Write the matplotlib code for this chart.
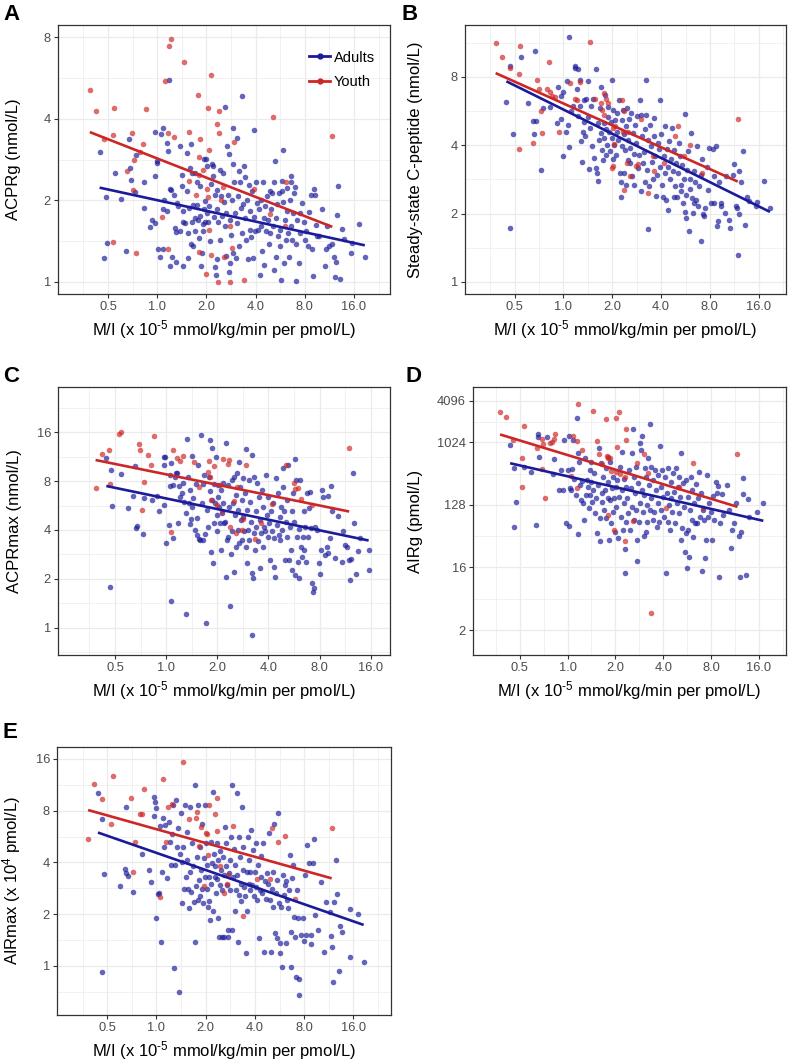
import numpy as np
import matplotlib
matplotlib.use('Agg')
import matplotlib.pyplot as plt
from matplotlib.lines import Line2D
from matplotlib.ticker import NullFormatter

plt.rcParams['font.family'] = ['Liberation Sans', 'DejaVu Sans']
plt.rcParams['mathtext.fontset'] = 'custom'
plt.rcParams['mathtext.rm'] = 'Liberation Sans'
plt.rcParams['mathtext.it'] = 'Liberation Sans:italic'
plt.rcParams['mathtext.bf'] = 'Liberation Sans:bold'

ADULT = '#1b1b9a'
YOUTH = '#cd2626'

x_ticks = [0.5, 1, 2, 4, 8, 16]
x_tick_labels = ['0.5', '1.0', '2.0', '4.0', '8.0', '16.0']
x_label = r'M/I (x 10$^{\text{-5}}$ mmol/kg/min per pmol/L)'

# all points are (log2 M/I, log2 y)

# --- A: ACPRg ---
A_adult = [(-1.17,1.59),(-1.05,1.04),(-1.03,0.48),(-1.08,0.29),(-0.86,1.33),(-0.73,1.02),(-0.63,0.38),(-0.58,1.75),(-0.56,1.40),(-0.54,1.25),(-0.44,1.55),(-0.45,1.10),(-0.27,1.22),(-0.27,0.91),(-0.14,0.67),(-0.10,0.76),(-0.05,0.72),(-0.05,1.84),(-0.04,1.30),(-0.01,1.48),(0.00,1.46),(0.01,0.40),(0.05,0.31),(0.11,0.41),(0.07,1.81),(0.12,1.89),(0.14,1.01),(0.12,0.89),(0.19,1.70),(0.21,1.60),(0.19,0.87),(0.24,2.47),(0.26,0.20),(0.27,1.14),(0.29,1.13),(0.31,0.30),(0.34,1.07),(0.37,0.66),(0.38,0.61),(0.39,0.25),(0.41,0.97),(0.43,0.93),(0.46,0.62),(0.50,1.31),(0.51,1.17),(0.52,0.87),(0.52,0.74),(0.53,0.20),(0.57,0.72),(0.60,1.12),(0.62,0.60),(0.63,0.29),(0.65,0.91),(0.67,1.40),(0.69,1.69),(0.69,0.46),(0.70,1.33),(0.71,0.73),(0.72,0.94),(0.73,0.44),(0.77,0.63),(0.77,0.78),(0.80,0.94),(0.80,1.23),(0.82,0.76),(0.86,0.54),(0.87,0.81),(0.88,1.17),(0.90,0.19),(0.91,0.36),(0.93,0.62),(0.94,0.71),(0.95,0.89),(0.97,0.74),(0.98,0.99),(0.99,1.51),(1.01,1.42),(1.02,0.84),(1.04,0.74),(1.06,0.93),(1.07,0.50),(1.09,1.20),(1.12,1.44),(1.13,1.30),(1.14,1.42),(1.16,0.80),(1.17,1.07),(1.18,0.18),(1.20,0.09),(1.21,0.28),(1.21,0.89),(1.22,1.13),(1.24,0.74),(1.27,1.37),(1.28,0.52),(1.30,1.05),(1.31,0.81),(1.33,1.33),(1.35,0.98),(1.37,0.69),(1.38,2.14),(1.39,0.32),(1.40,0.85),(1.41,1.66),(1.44,1.07),(1.46,1.57),(1.46,0.12),(1.47,0.23),(1.48,0.76),(1.50,0.58),(1.52,1.01),(1.54,1.44),(1.55,1.89),(1.55,0.36),(1.57,1.22),(1.59,0.84),(1.60,0.29),(1.62,0.72),(1.63,1.76),(1.65,1.05),(1.66,1.36),(1.67,0.44),(1.69,1.22),(1.70,0.91),(1.72,0.60),(1.73,2.28),(1.74,0.96),(1.76,1.42),(1.78,0.78),(1.79,1.29),(1.80,0.52),(1.82,1.01),(1.84,0.28),(1.86,1.19),(1.88,0.64),(1.89,0.87),(1.90,0.55),(1.93,1.11),(1.95,0.29),(1.96,1.86),(1.97,0.80),(1.99,0.62),(2.01,1.22),(2.03,0.97),(2.04,0.64),(2.06,0.89),(2.08,0.08),(2.10,0.68),(2.11,1.01),(2.13,0.38),(2.15,1.23),(2.17,0.78),(2.18,0.21),(2.20,0.93),(2.22,0.62),(2.23,1.05),(2.25,0.76),(2.27,0.47),(2.29,1.12),(2.30,0.60),(2.31,0.89),(2.33,1.09),(2.35,0.68),(2.37,1.22),(2.38,0.15),(2.40,1.48),(2.41,0.78),(2.42,0.31),(2.44,0.95),(2.45,0.56),(2.47,1.09),(2.49,0.44),(2.50,0.64),(2.52,0.03),(2.53,1.11),(2.55,1.62),(2.56,0.98),(2.57,0.23),(2.59,0.76),(2.61,0.52),(2.63,1.15),(2.64,0.87),(2.65,0.60),(2.67,0.31),(2.69,1.01),(2.71,1.23),(2.72,0.68),(2.74,0.52),(2.76,0.84),(2.78,1.09),(2.80,1.16),(2.82,0.01),(2.83,0.46),(2.84,0.76),(2.88,0.23),(2.90,0.60),(2.91,0.84),(2.95,0.97),(2.98,0.74),(3.01,0.52),(3.03,0.62),(3.06,0.44),(3.08,0.86),(3.12,1.07),(3.15,0.40),(3.16,0.07),(3.18,1.14),(3.20,1.07),(3.22,0.70),(3.24,0.56),(3.29,0.56),(3.35,0.89),(3.42,0.20),(3.44,0.40),(3.49,0.44),(3.56,0.47),(3.59,0.31),(3.61,0.06),(3.63,0.25),(3.65,0.82),(3.67,1.18),(3.71,0.04),(3.75,0.65),(3.80,0.53),(3.93,0.36),(3.95,0.48),(4.10,0.71),(4.22,0.31),(3.46,0.68),(0.46,1.66),(0.60,1.58),(0.77,1.33),(0.95,1.51),(2.54,1.24),(2.71,1.30)]
A_youth = [(-1.37,2.35),(-1.24,2.10),(-1.09,1.75),(-0.88,2.13),(-0.90,1.80),(-0.90,0.49),(-0.52,1.82),(-0.47,1.49),(-0.28,1.69),(-0.23,2.12),(-0.35,1.59),(-0.61,1.36),(-0.49,1.13),(-0.43,0.36),(0.10,0.80),(0.15,2.46),(0.24,2.89),(0.29,2.98),(0.22,1.82),(0.34,1.78),(0.22,0.40),(0.54,2.69),(0.64,1.84),(0.65,1.24),(0.82,2.29),(0.87,1.75),(0.84,1.53),(0.86,1.31),(0.78,1.06),(0.86,0.37),(0.94,1.37),(1.09,2.54),(1.03,2.13),(1.05,1.62),(1.01,1.14),(1.03,1.04),(1.06,0.64),(0.99,0.10),(1.09,0.33),(1.22,1.94),(1.25,2.10),(1.25,1.82),(1.29,1.00),(1.23,0.00),(1.33,1.16),(1.47,0.68),(1.52,0.42),(1.47,0.00),(1.57,1.72),(1.76,0.03),(1.97,1.14),(2.35,2.02),(2.30,0.83),(2.62,1.23),(2.60,0.68),(1.35,0.31),(3.56,1.79)]
A_fit = [(1.002, -0.131), (1.513, -0.2355)]  # adults, youth: log2 y = a + b log2 x

# --- B: steady-state C-peptide ---
B_adult = [(-1.09,3.16),(-1.17,2.64),(-1.09,0.79),(-1.04,2.16),(-0.88,3.29),(-0.73,2.62),(-0.63,2.36),(-0.57,2.36),(-0.59,3.38),(-0.61,2.16),(-0.46,1.64),(-0.43,2.55),(-0.27,2.56),(-0.14,2.32),(-0.12,2.85),(-0.06,2.38),(-0.05,2.72),(-0.01,1.84),(0.00,2.78),(0.05,2.20),(0.07,2.94),(0.10,2.30),(0.12,3.59),(0.11,1.98),(0.16,2.50),(0.19,2.58),(0.23,3.16),(0.24,3.13),(0.27,2.82),(0.29,3.11),(0.29,2.43),(0.33,2.96),(0.34,2.57),(0.36,2.06),(0.38,1.76),(0.40,2.20),(0.42,2.67),(0.43,2.34),(0.45,2.13),(0.47,2.68),(0.50,2.94),(0.51,2.42),(0.52,1.65),(0.55,2.25),(0.57,2.57),(0.59,1.99),(0.61,2.68),(0.63,1.81),(0.66,1.67),(0.67,3.12),(0.68,1.60),(0.70,1.48),(0.70,2.32),(0.72,2.08),(0.74,2.54),(0.76,2.86),(0.76,2.18),(0.78,1.93),(0.81,1.79),(0.83,2.32),(0.84,2.11),(0.85,2.74),(0.87,2.24),(0.88,1.86),(0.89,2.01),(0.91,2.41),(0.92,2.56),(0.94,2.19),(0.96,1.91),(0.98,2.34),(0.99,2.95),(1.00,2.11),(1.01,2.52),(1.02,1.80),(1.04,2.01),(1.06,2.37),(1.08,1.86),(1.09,2.20),(1.10,2.48),(1.11,2.08),(1.13,2.67),(1.15,1.60),(1.17,1.25),(1.18,1.47),(1.19,2.37),(1.20,1.99),(1.22,2.52),(1.23,2.16),(1.25,1.60),(1.26,1.93),(1.28,2.29),(1.29,1.42),(1.30,2.55),(1.32,1.79),(1.33,2.08),(1.35,2.38),(1.37,1.96),(1.37,1.74),(1.39,2.47),(1.41,1.55),(1.42,2.18),(1.44,1.88),(1.45,1.42),(1.47,2.30),(1.49,2.03),(1.51,2.43),(1.52,1.67),(1.54,1.86),(1.56,2.67),(1.58,1.33),(1.59,2.45),(1.60,2.13),(1.62,1.74),(1.65,1.90),(1.66,2.24),(1.67,1.47),(1.69,2.95),(1.70,2.45),(1.71,1.64),(1.73,0.77),(1.74,2.08),(1.76,1.40),(1.77,2.30),(1.80,1.99),(1.81,1.75),(1.83,1.50),(1.85,2.13),(1.86,2.40),(1.88,1.84),(1.90,1.26),(1.92,1.57),(1.93,2.04),(1.95,1.95),(1.97,2.67),(1.98,1.69),(2.00,2.16),(2.01,1.42),(2.03,1.25),(2.05,1.84),(2.07,1.60),(2.08,2.28),(2.10,1.20),(2.12,1.95),(2.14,1.69),(2.15,1.06),(2.17,2.06),(2.19,1.50),(2.20,1.80),(2.23,2.26),(2.24,1.63),(2.26,1.25),(2.27,1.93),(2.29,1.40),(2.31,1.74),(2.33,1.25),(2.34,1.60),(2.36,2.03),(2.38,1.85),(2.40,1.42),(2.41,1.33),(2.42,1.71),(2.44,1.16),(2.46,1.50),(2.48,2.46),(2.49,1.03),(2.51,0.94),(2.52,1.28),(2.53,1.64),(2.55,1.91),(2.57,0.74),(2.59,1.36),(2.60,1.50),(2.61,2.18),(2.63,1.23),(2.65,1.01),(2.67,1.16),(2.68,1.63),(2.70,1.47),(2.72,1.20),(2.74,1.99),(2.75,1.11),(2.78,1.40),(2.81,1.56),(2.82,0.60),(2.83,1.80),(2.85,0.99),(2.87,0.96),(2.90,1.08),(2.94,1.69),(2.97,1.35),(2.99,1.96),(3.02,1.16),(3.06,1.94),(3.08,1.55),(3.09,1.16),(3.13,1.99),(3.15,0.82),(3.17,0.89),(3.19,1.46),(3.22,1.15),(3.23,1.11),(3.30,1.01),(3.33,1.55),(3.40,0.91),(3.42,0.79),(3.47,1.57),(3.49,1.73),(3.54,1.11),(3.55,1.08),(3.57,0.40),(3.59,1.00),(3.60,1.62),(3.64,1.47),(3.67,1.91),(3.71,0.84),(3.75,1.25),(3.81,1.18),(3.95,1.11),(3.97,1.17),(4.10,1.48),(4.23,1.08)]
B_youth = [(-1.39,3.50),(-1.26,3.29),(-1.10,3.13),(-0.91,3.04),(-0.89,3.45),(-0.91,1.95),(-0.63,2.03),(-0.44,2.18),(-0.47,2.50),(-0.54,2.95),(-0.51,2.82),(-0.34,2.82),(-0.29,3.22),(-0.27,2.78),(-0.24,2.72),(-0.18,2.71),(-0.10,2.19),(0.14,2.91),(0.23,2.68),(0.27,2.67),(0.33,2.93),(0.54,3.51),(0.65,2.68),(0.77,2.62),(0.84,2.77),(0.87,2.68),(0.78,2.52),(0.84,2.45),(0.91,2.62),(1.01,2.26),(1.06,2.29),(1.04,2.02),(1.00,1.67),(1.01,1.70),(1.19,2.67),(1.25,2.50),(1.22,2.20),(1.30,1.74),(1.32,2.20),(1.24,1.34),(1.37,1.55),(1.49,1.70),(1.52,1.72),(1.58,2.39),(1.74,1.30),(1.83,1.85),(1.86,1.63),(2.05,1.74),(2.29,2.13),(2.35,2.29),(2.46,1.85),(2.60,2.00),(2.83,1.60),(3.57,2.39)]
B_fit = [(2.523, -0.354), (2.612, -0.320)]

# --- C: ACPRmax ---
C_adult = [(-1.17,3.47),(-1.09,0.84),(-1.08,3.22),(-1.05,2.49),(-0.89,3.14),(-0.75,2.44),(-0.64,2.70),(-0.61,3.30),(-0.59,2.05),(-0.57,2.08),(-0.46,1.92),(-0.43,2.65),(-0.28,2.61),(-0.18,2.70),(-0.13,2.39),(-0.05,2.51),(-0.05,3.33),(-0.04,3.50),(-0.02,3.49),(0.00,1.73),(0.05,2.10),(0.07,2.91),(0.08,3.13),(0.10,3.38),(0.10,0.55),(0.13,1.83),(0.14,2.92),(0.18,3.09),(0.19,3.17),(0.21,3.16),(0.24,2.15),(0.26,2.90),(0.27,2.68),(0.31,2.75),(0.33,2.96),(0.35,2.58),(0.38,0.28),(0.38,2.35),(0.40,3.86),(0.42,3.09),(0.44,2.55),(0.46,2.82),(0.47,2.12),(0.48,2.22),(0.50,3.52),(0.51,2.48),(0.53,2.65),(0.56,2.00),(0.59,2.94),(0.60,1.90),(0.61,2.24),(0.63,3.33),(0.64,1.81),(0.66,1.80),(0.68,3.95),(0.70,2.55),(0.72,1.80),(0.73,2.94),(0.74,3.13),(0.76,1.92),(0.78,0.09),(0.80,2.41),(0.81,2.07),(0.83,3.09),(0.85,3.84),(0.86,2.79),(0.88,1.54),(0.89,3.67),(0.90,2.61),(0.91,1.33),(0.93,2.14),(0.94,2.94),(0.96,2.55),(0.98,3.50),(0.99,2.31),(1.00,1.97),(1.02,2.92),(1.02,2.67),(1.04,2.48),(1.06,2.15),(1.07,1.59),(1.08,2.82),(1.10,2.35),(1.11,2.96),(1.12,2.55),(1.13,2.14),(1.15,2.17),(1.17,3.79),(1.18,1.03),(1.19,1.80),(1.20,1.86),(1.21,2.92),(1.23,2.48),(1.25,0.44),(1.26,1.51),(1.28,1.97),(1.28,3.02),(1.30,2.55),(1.32,1.15),(1.33,3.09),(1.34,2.31),(1.36,2.72),(1.37,1.65),(1.38,3.17),(1.40,2.00),(1.41,2.41),(1.42,3.40),(1.43,1.74),(1.45,2.89),(1.46,2.20),(1.48,2.61),(1.49,1.80),(1.50,3.06),(1.51,2.27),(1.53,1.97),(1.54,2.75),(1.56,3.65),(1.56,1.65),(1.58,2.41),(1.59,1.32),(1.60,2.00),(1.62,3.02),(1.63,1.80),(1.64,2.58),(1.66,2.17),(1.67,3.54),(1.68,1.11),(1.68,-0.15),(1.69,1.01),(1.71,1.93),(1.72,3.09),(1.73,1.59),(1.75,2.38),(1.76,2.07),(1.77,2.96),(1.79,1.78),(1.81,2.68),(1.83,1.22),(1.84,2.20),(1.85,1.93),(1.87,2.82),(1.89,1.66),(1.90,2.48),(1.92,2.07),(1.94,1.97),(1.96,3.13),(1.97,2.31),(1.99,1.86),(2.00,2.68),(2.02,2.14),(2.03,1.39),(2.05,2.38),(2.07,1.97),(2.09,2.55),(2.10,1.83),(2.11,1.25),(2.13,1.04),(2.14,3.06),(2.16,2.10),(2.18,2.75),(2.20,1.90),(2.22,2.27),(2.23,1.80),(2.25,2.48),(2.26,2.00),(2.28,3.26),(2.29,2.89),(2.31,2.38),(2.33,1.39),(2.35,2.17),(2.36,1.86),(2.37,2.61),(2.39,3.33),(2.41,1.39),(2.43,2.07),(2.44,1.59),(2.46,2.38),(2.47,1.18),(2.49,2.75),(2.50,2.17),(2.52,3.45),(2.52,1.08),(2.54,3.02),(2.56,1.86),(2.57,1.35),(2.59,1.01),(2.60,2.02),(2.62,3.02),(2.64,1.66),(2.65,1.45),(2.67,1.86),(2.69,2.38),(2.70,1.59),(2.72,2.07),(2.74,1.35),(2.75,2.75),(2.77,1.86),(2.79,2.46),(2.82,2.78),(2.83,2.05),(2.85,0.92),(2.88,0.74),(2.89,0.81),(2.91,2.07),(2.95,2.00),(2.98,1.32),(3.01,1.10),(3.02,1.59),(3.04,2.82),(3.06,2.68),(3.11,1.49),(3.14,1.66),(3.16,1.52),(3.17,2.70),(3.21,1.83),(3.23,2.90),(3.24,2.38),(3.31,1.42),(3.37,2.29),(3.44,1.35),(3.46,1.97),(3.49,1.69),(3.53,1.66),(3.57,1.39),(3.60,0.98),(3.61,1.40),(3.66,3.17),(3.68,2.15),(3.72,1.10),(3.76,1.56),(3.79,1.83),(3.96,1.59),(3.96,1.19)]
C_youth = [(-1.38,2.86),(-1.26,3.55),(-1.11,3.64),(-1.09,2.94),(-0.93,3.97),(-0.89,4.01),(-0.53,3.75),(-0.51,3.64),(-0.48,2.41),(-0.44,2.98),(-0.35,3.54),(-0.30,3.34),(-0.23,3.92),(0.09,1.95),(0.13,3.64),(0.22,3.47),(0.27,3.41),(0.33,3.52),(0.55,3.40),(0.65,2.89),(0.81,3.19),(0.83,3.42),(0.85,3.09),(0.87,2.61),(0.94,3.31),(0.99,2.51),(1.06,2.92),(1.09,2.38),(1.11,3.45),(1.20,3.35),(1.22,3.43),(1.24,2.07),(1.32,2.60),(1.37,1.93),(1.39,2.89),(1.48,2.01),(1.51,2.22),(1.56,3.34),(1.74,1.81),(1.86,2.15),(2.07,2.53),(2.35,3.33),(2.50,2.97),(2.52,2.83),(2.57,2.85),(2.64,2.63),(2.85,2.51),(3.58,3.67)]
C_fit = [(2.646, -0.2175), (3.139, -0.2126)]

# --- D: AIRg ---
D_adult = [(-1.20,9.87),(-1.11,8.75),(-1.08,7.15),(-1.11,5.92),(-0.91,8.80),(-0.77,8.59),(-0.66,6.03),(-0.61,10.42),(-0.59,9.31),(-0.61,10.26),(-0.43,10.26),(-0.31,8.48),(-0.29,9.18),(-0.17,7.71),(-0.14,8.67),(-0.09,7.74),(-0.07,10.11),(-0.04,6.14),(0.00,8.67),(0.03,5.98),(0.04,10.30),(0.06,7.79),(0.08,7.74),(0.10,8.70),(0.11,10.11),(0.14,8.22),(0.17,7.47),(0.20,11.18),(0.21,9.47),(0.22,5.60),(0.24,9.07),(0.26,7.95),(0.28,7.23),(0.30,8.16),(0.33,7.10),(0.35,6.27),(0.37,9.23),(0.38,7.47),(0.40,8.19),(0.42,7.87),(0.44,6.83),(0.46,8.67),(0.47,7.47),(0.49,8.11),(0.50,9.07),(0.52,7.15),(0.54,7.74),(0.56,8.51),(0.57,6.59),(0.59,7.31),(0.61,5.66),(0.63,7.95),(0.65,9.75),(0.67,5.26),(0.68,6.35),(0.70,9.00),(0.71,7.15),(0.72,7.55),(0.75,8.35),(0.77,6.75),(0.78,7.71),(0.80,8.75),(0.81,6.35),(0.84,7.31),(0.85,8.11),(0.86,5.31),(0.88,9.07),(0.89,7.23),(0.91,6.11),(0.93,7.79),(0.94,8.35),(0.95,6.67),(0.97,7.31),(0.99,5.71),(1.01,7.87),(1.02,6.91),(1.04,8.19),(1.06,5.39),(1.08,7.39),(1.09,8.83),(1.11,6.43),(1.13,7.71),(1.14,9.55),(1.16,5.79),(1.17,7.07),(1.18,8.22),(1.20,4.87),(1.20,3.75),(1.22,6.19),(1.23,7.87),(1.25,7.31),(1.27,6.62),(1.29,8.67),(1.30,5.79),(1.32,7.79),(1.34,9.47),(1.35,6.91),(1.36,10.63),(1.38,8.35),(1.39,6.27),(1.41,7.55),(1.42,8.83),(1.43,6.75),(1.45,5.31),(1.46,4.32),(1.48,8.03),(1.50,6.19),(1.51,7.07),(1.52,9.95),(1.53,9.63),(1.55,10.30),(1.56,7.71),(1.57,6.67),(1.59,5.50),(1.60,7.47),(1.62,8.75),(1.63,5.71),(1.64,8.35),(1.66,6.99),(1.67,6.19),(1.69,9.23),(1.71,7.95),(1.72,10.90),(1.73,6.75),(1.74,8.83),(1.75,7.31),(1.78,6.27),(1.79,8.19),(1.81,6.67),(1.82,8.67),(1.85,7.71),(1.86,5.95),(1.88,8.43),(1.89,7.07),(1.92,6.19),(1.94,9.82),(1.95,7.87),(1.96,6.75),(1.98,8.67),(2.00,7.39),(2.02,6.43),(2.04,8.35),(2.06,3.72),(2.08,7.55),(2.09,6.19),(2.10,8.75),(2.12,6.99),(2.14,5.79),(2.16,8.11),(2.17,7.31),(2.19,6.67),(2.21,8.51),(2.23,7.63),(2.25,6.14),(2.27,8.75),(2.28,7.07),(2.30,7.87),(2.32,6.59),(2.33,8.35),(2.35,7.36),(2.37,9.47),(2.38,5.34),(2.40,5.87),(2.42,8.03),(2.44,6.91),(2.45,4.75),(2.47,5.63),(2.48,8.19),(2.49,3.96),(2.51,7.39),(2.52,5.82),(2.54,4.51),(2.56,6.75),(2.58,8.35),(2.59,6.27),(2.61,7.71),(2.63,5.47),(2.65,7.07),(2.67,6.14),(2.68,8.00),(2.70,6.11),(2.72,7.31),(2.74,8.59),(2.76,6.43),(2.79,7.55),(2.81,3.84),(2.82,6.75),(2.86,6.27),(2.88,4.47),(2.89,5.34),(2.91,8.43),(2.94,6.43),(2.96,7.07),(2.99,6.67),(3.01,5.34),(3.03,7.42),(3.06,6.30),(3.10,8.11),(3.12,7.55),(3.15,7.90),(3.17,3.52),(3.19,6.14),(3.22,7.52),(3.24,6.51),(3.34,7.95),(3.38,6.75),(3.41,4.91),(3.43,5.82),(3.47,6.11),(3.52,7.10),(3.59,5.50),(3.61,3.56),(3.62,5.71),(3.66,7.52),(3.67,8.30),(3.73,3.64),(3.76,7.28),(3.80,6.43),(3.95,6.67),(4.09,7.10)]
D_youth = [(-1.41,11.46),(-1.29,11.22),(-1.15,10.11),(-0.95,9.23),(-0.92,10.79),(-0.95,7.84),(-0.64,9.71),(-0.54,8.70),(-0.54,10.15),(-0.51,9.90),(-0.47,7.31),(-0.37,9.95),(-0.33,10.03),(-0.29,10.14),(-0.26,10.39),(0.07,8.38),(0.12,10.30),(0.20,10.06),(0.21,11.86),(0.19,7.79),(0.30,9.63),(0.53,11.50),(0.61,10.06),(0.66,9.43),(0.71,8.96),(0.80,11.11),(0.82,9.34),(0.84,9.26),(0.85,9.31),(0.89,9.23),(0.84,6.51),(0.91,8.62),(0.96,5.82),(1.01,8.59),(1.03,9.79),(1.02,11.18),(1.07,11.46),(1.10,8.46),(1.20,8.35),(1.22,10.66),(1.22,10.11),(1.21,5.28),(1.37,6.22),(1.46,9.00),(1.59,9.43),(1.74,1.83),(1.69,8.51),(2.05,6.83),(2.33,7.84),(2.63,9.00),(2.82,6.83),(3.55,9.43)]
D_fit = [(8.374, -0.522), (9.393, -0.70)]

# --- E: AIRmax ---
E_adult = [(-1.19,3.34),(-1.10,2.84),(-1.06,1.77),(-1.10,-0.13),(-0.75,1.55),(-0.64,1.88),(-0.61,1.79),(-0.58,1.74),(-0.61,3.08),(-0.47,1.43),(-0.29,2.17),(-0.15,1.86),(-0.12,1.61),(-0.05,3.26),(-0.05,2.90),(-0.03,3.17),(0.00,3.05),(-0.01,0.92),(0.03,1.39),(0.05,1.41),(0.08,2.71),(0.10,0.46),(0.12,1.82),(0.14,2.85),(0.16,2.30),(0.18,2.72),(0.22,1.70),(0.25,2.79),(0.27,2.40),(0.30,1.94),(0.32,2.55),(0.34,3.11),(0.36,-0.05),(0.37,1.95),(0.39,3.21),(0.41,2.30),(0.43,2.66),(0.46,-0.50),(0.47,2.17),(0.49,2.96),(0.51,2.01),(0.52,1.21),(0.54,2.30),(0.56,1.48),(0.58,3.11),(0.60,1.72),(0.61,2.04),(0.63,2.59),(0.64,1.48),(0.66,1.11),(0.68,3.08),(0.69,1.82),(0.71,1.43),(0.73,2.37),(0.75,1.92),(0.76,1.23),(0.78,3.50),(0.79,0.46),(0.81,1.55),(0.83,2.11),(0.84,1.28),(0.85,3.11),(0.87,1.66),(0.88,2.29),(0.89,1.34),(0.91,1.85),(0.92,2.75),(0.93,1.48),(0.95,1.21),(0.96,2.08),(0.98,1.72),(0.99,3.11),(1.00,2.38),(1.02,1.48),(1.03,1.95),(1.04,1.14),(1.06,1.72),(1.07,1.26),(1.08,0.88),(1.10,1.59),(1.11,2.40),(1.12,1.98),(1.14,1.05),(1.15,3.37),(1.17,2.17),(1.18,1.72),(1.19,1.92),(1.21,1.40),(1.22,2.37),(1.23,1.67),(1.25,2.05),(1.26,0.92),(1.27,0.55),(1.29,1.56),(1.30,2.21),(1.31,1.85),(1.33,0.55),(1.34,1.46),(1.36,2.11),(1.37,1.75),(1.38,0.55),(1.40,2.69),(1.41,1.92),(1.42,2.37),(1.44,1.56),(1.45,0.55),(1.46,0.69),(1.48,1.80),(1.49,2.05),(1.50,1.46),(1.52,2.50),(1.53,0.69),(1.54,3.50),(1.56,1.72),(1.57,2.25),(1.59,1.05),(1.60,1.95),(1.62,1.46),(1.63,3.35),(1.64,1.75),(1.65,0.46),(1.67,2.50),(1.68,1.37),(1.69,2.11),(1.71,1.59),(1.72,1.26),(1.73,3.08),(1.75,1.85),(1.76,2.30),(1.78,1.53),(1.80,1.34),(1.81,0.24),(1.83,1.82),(1.84,1.05),(1.86,2.50),(1.87,1.59),(1.88,2.05),(1.90,1.46),(1.91,1.82),(1.93,2.63),(1.95,1.56),(1.96,2.24),(1.98,1.35),(2.00,1.82),(2.02,2.38),(2.03,1.53),(2.05,1.28),(2.07,1.95),(2.09,0.53),(2.10,1.46),(2.12,1.72),(2.13,2.12),(2.15,1.40),(2.17,2.37),(2.19,0.27),(2.21,1.63),(2.23,1.30),(2.25,1.79),(2.27,1.59),(2.29,2.56),(2.30,1.28),(2.32,0.27),(2.34,1.48),(2.36,1.82),(2.37,1.14),(2.38,2.75),(2.41,0.63),(2.42,1.40),(2.44,0.53),(2.45,1.65),(2.47,2.95),(2.49,1.21),(2.51,0.24),(2.52,0.43),(2.54,1.14),(2.55,-0.02),(2.57,1.75),(2.59,1.37),(2.61,1.56),(2.63,0.43),(2.64,1.63),(2.66,1.27),(2.68,1.11),(2.70,1.47),(2.71,2.14),(2.73,-0.02),(2.74,0.66),(2.76,1.69),(2.78,1.95),(2.80,0.95),(2.82,0.56),(2.83,-0.21),(2.85,1.47),(2.87,0.92),(2.89,-0.26),(2.90,-0.57),(2.93,0.59),(2.97,0.92),(3.00,0.48),(3.01,1.75),(3.03,0.59),(3.05,2.34),(3.10,1.98),(3.13,0.59),(3.15,0.42),(3.18,1.99),(3.20,2.45),(3.22,0.98),(3.29,0.69),(3.35,1.61),(3.41,0.27),(3.45,1.24),(3.52,1.03),(3.55,0.57),(3.57,0.37),(3.59,-0.31),(3.61,1.24),(3.65,2.05),(3.67,1.39),(3.71,-0.10),(3.73,0.77),(3.78,0.65),(3.93,0.17),(3.93,1.10),(4.09,1.00),(4.21,0.08)]
E_youth = [(-1.39,2.45),(-1.27,3.52),(-1.11,3.22),(-0.93,2.74),(-0.89,3.67),(-0.52,3.25),(-0.47,1.82),(-0.44,2.40),(-0.34,2.94),(-0.29,2.94),(-0.25,3.42),(0.08,1.32),(0.14,3.61),(0.20,2.39),(0.24,3.08),(0.31,3.13),(0.54,3.94),(0.66,2.84),(0.81,2.85),(0.83,2.98),(0.86,2.32),(0.91,2.69),(0.96,1.54),(1.00,2.56),(1.03,2.55),(1.05,2.14),(1.07,3.11),(1.19,2.94),(1.22,2.61),(1.23,3.24),(1.30,1.92),(1.37,1.40),(1.46,1.75),(1.56,2.70),(1.75,0.97),(2.05,1.67),(2.30,1.68),(2.34,2.66),(2.47,2.40),(2.62,2.51),(2.81,1.30),(3.56,2.67),(1.44,1.58)]
E_fit = [(2.183, -0.331), (2.641, -0.267)]

W, H = 798.0, 1064.0


def rect(l, r, t, b):
    return [l / W, 1 - b / H, (r - l) / W, (b - t) / H]


def draw_panel(fig, box, letter, letter_pos, adult, youth, fits, ylabel,
               yticks, ylabels, xlim, ylim, minor_y, ylab_right, legend=False):
    ax = fig.add_axes(rect(*box))
    ax.set_xscale('log', base=2)
    ax.set_yscale('log', base=2)

    for pts, col in [(adult, ADULT), (youth, YOUTH)]:
        lx, ly = np.array(pts).T
        ax.scatter(np.exp2(lx), np.exp2(ly), s=16, color=col, alpha=0.68,
                   linewidths=0, zorder=2)
    for pts, (a, b), col in [(adult, fits[0], ADULT), (youth, fits[1], YOUTH)]:
        lx = np.array(pts)[:, 0]
        xs = np.array([lx.min(), lx.max()])
        ax.plot(np.exp2(xs), np.exp2(a + b * xs), color=col, lw=1.9, zorder=3,
                solid_capstyle='butt')

    ax.set_xlim(2 ** xlim[0], 2 ** xlim[1])
    ax.set_ylim(2 ** ylim[0], 2 ** ylim[1])
    ax.set_xticks(x_ticks)
    ax.set_xticklabels(x_tick_labels)
    ax.set_xticks([2 ** v for v in np.arange(-1.5, 5, 1.0) if xlim[0] < v < xlim[1]], minor=True)
    ax.set_yticks(yticks)
    ax.set_yticklabels(ylabels)
    ax.set_yticks([2 ** v for v in minor_y if ylim[0] < v < ylim[1]], minor=True)
    ax.xaxis.set_minor_formatter(NullFormatter())
    ax.yaxis.set_minor_formatter(NullFormatter())

    ax.grid(which='major', color='#ebebeb', lw=0.9, zorder=0)
    ax.grid(which='minor', color='#ebebeb', lw=0.5, zorder=0)
    ax.set_axisbelow(True)
    for sp in ax.spines.values():
        sp.set_color('#333333')
        sp.set_linewidth(0.9)
    ax.tick_params(which='major', length=3, width=0.8, color='#333333',
                   labelcolor='#4d4d4d', labelsize=9.3, pad=2)
    ax.tick_params(which='minor', length=0)

    ax.set_xlabel(x_label, fontsize=12, labelpad=4)
    ax.set_ylabel(ylabel, fontsize=12)
    # right edge of the rotated y title, in pixels
    ax.yaxis.set_label_coords((ylab_right - box[0]) / (box[1] - box[0]), 0.5)

    fig.text(letter_pos[0] / W, 1 - letter_pos[1] / H, letter,
             fontsize=16, fontweight='bold', ha='left', va='center')

    if legend:
        handles = [Line2D([0], [0], color=ADULT, lw=2, marker='o', ms=3.5),
                   Line2D([0], [0], color=YOUTH, lw=2, marker='o', ms=3.5)]
        ax.legend(handles, ['Adults', 'Youth'], loc='upper left',
                  bbox_to_anchor=(0.757, 0.905), frameon=False, fontsize=10.5,
                  handlelength=1.4, handletextpad=0.3, labelspacing=0.75,
                  borderpad=0, borderaxespad=0, numpoints=1)
    return ax


fig = plt.figure(figsize=(7.98, 10.64), dpi=100)

draw_panel(fig, (58, 390, 25, 294), 'A', (3, 14), A_adult, A_youth, A_fit,
           'ACPRg (nmol/L)', [1, 2, 4, 8], ['1', '2', '4', '8'],
           (-2.016, 4.732), (-0.147, 3.147), [0.5, 1.5, 2.5, 3.5], 21, legend=True)
draw_panel(fig, (465, 786, 25, 294), 'B', (401, 14), B_adult, B_youth, B_fit,
           'Steady-state C-peptide (nmol/L)', [1, 2, 4, 8], ['1', '2', '4', '8'],
           (-2.018, 4.559), (-0.176, 3.761), [0.5, 1.5, 2.5, 3.5], 423)
draw_panel(fig, (58, 390, 387, 655), 'C', (3, 377), C_adult, C_youth, C_fit,
           'ACPRmax (nmol/L)', [1, 2, 4, 8, 16], ['1', '2', '4', '8', '16'],
           (-2.115, 4.378), (-0.559, 4.927), [-0.5, 0.5, 1.5, 2.5, 3.5, 4.5], 22)
draw_panel(fig, (473, 786, 387, 655), 'D', (405, 377), D_adult, D_youth, D_fit,
           'AIRg (pmol/L)', [2, 16, 128, 1024, 4096], ['2', '16', '128', '1024', '4096'],
           (-1.976, 4.564), (-0.199, 12.657), [-0.5, 2.5, 5.5, 8.5, 11, 13], 423)
draw_panel(fig, (57, 391, 747, 1015), 'E', (3, 733), E_adult, E_youth, E_fit,
           r'AIRmax (x 10$^{\text{4}}$ pmol/L)', [1, 2, 4, 8, 16],
           ['1', '2', '4', '8', '16'],
           (-2.022, 4.766), (-0.954, 4.232), [-0.5, 0.5, 1.5, 2.5, 3.5, 4.5], 23)

fig.savefig('out.png', dpi=100)
